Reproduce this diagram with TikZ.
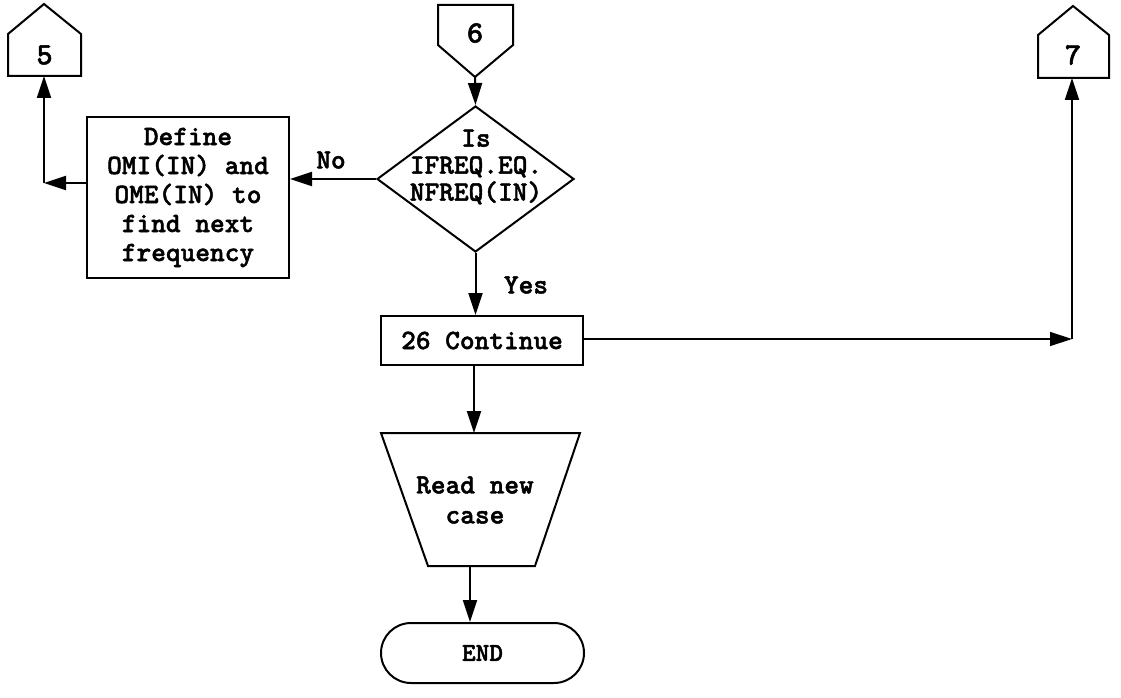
\documentclass[tikz,border=0pt]{standalone}
\usepackage{fontspec}
\newfontfamily\tw{lmmonolt10-bold.otf}[FakeBold=1.6]
\usetikzlibrary{arrows.meta,shapes.geometric,shapes.misc}

\begin{document}
\begin{tikzpicture}[x=1pt,y=-1pt,
  flow/.style={line width=2pt},
  arr/.style={flow,-{Triangle[length=22pt,width=14pt]}},
  thinarr/.style={line width=1.2pt,-{Triangle[length=22pt,width=14pt]}},
  txt/.style={inner sep=0pt,align=center,font=\tw\fontsize{28}{29}\selectfont},
  digit/.style={txt,font=\tw\fontsize{31}{32}\selectfont},
  box/.style={txt,draw,line width=2pt},
  outline/.style={line width=2pt,line join=miter}]
\useasboundingbox (0,0) rectangle (1121,698);

% off-page connectors
\draw[outline] (8,76) -- (8,34) -- (44,4) -- (81,34) -- (81,76) -- cycle;
\node[digit] (p5) at (44.5,55) {5};
\coordinate (p5b) at (44,76);

\draw[outline] (438,5) -- (513,5) -- (513,45) -- (475,77) -- (438,45) -- cycle;
\node[digit] (p6) at (475,33) {6};
\coordinate (p6t) at (475,77);

\draw[outline] (1038,78) -- (1038,35) -- (1073,6) -- (1109,35) -- (1109,78) -- cycle;
\node[digit] (p7) at (1073,55) {7};
\coordinate (p7b) at (1072,78);

% decision
\node[diamond,draw,line width=2pt,inner sep=0pt,minimum width=197pt,minimum height=146pt] (dec) at (475.5,179) {};
\node[txt,font=\tw\fontsize{28}{27}\selectfont] (dect) at (476,167) {Is\\IFREQ.EQ.\\NFREQ(IN)};

% process boxes
\node[box,minimum width=202pt,minimum height=161pt] (def) at (188,197.5)
  {Define\\OMI(IN) and\\OME(IN) to\\find next\\frequency};
\node[box,minimum width=202pt,minimum height=49pt] (cont) at (482,340.5) {26 Continue};

% manual input
\draw[outline] (381,433) -- (580,433) -- (535,566) -- (428,566) -- cycle;
\node[txt,font=\tw\fontsize{28}{30}\selectfont] (read) at (475,500) {Read new\\case};
\coordinate (readT) at (474,433);
\coordinate (readB) at (470,566);

% terminal
\node[rounded rectangle,draw,line width=2pt,minimum width=203pt,minimum height=60pt,
      inner sep=0pt,font=\tw\fontsize{26}{26}\selectfont] (end) at (482.5,653) {END};

% labels
\node[txt] (no) at (331,160) {No};
\node[txt] (yes) at (526,285) {Yes};

% connectors
\coordinate (c5) at (44,183);
\coordinate (c7) at (1072,339);
\draw[arr] (p6t) -- (dec.north);
\draw[arr] (dec.west) -- (def.east |- dec.west);
\draw[arr] (def.west |- c5) -- (c5);
\draw[arr] (c5) -- (p5b);
\draw[arr] (dec.south) -- (dec.south |- cont.north);
\draw[arr] (readT |- cont.south) -- (readT);
\draw[arr] (readB) -- (readB |- end.north);
\draw[thinarr] (cont.east |- c7) -- (c7);
\draw[arr] (c7) -- (p7b);
\end{tikzpicture}
\end{document}
